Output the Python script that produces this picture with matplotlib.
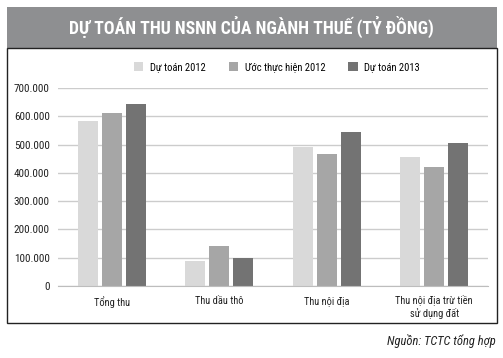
import matplotlib
matplotlib.use("Agg")
import matplotlib.pyplot as plt
from matplotlib import font_manager
from matplotlib.patches import Rectangle
import numpy as np

names = {f.name for f in font_manager.fontManager.ttflist}
fam = "Open Sans"
for cand in ["Liberation Sans Narrow", "Roboto Condensed", "Open Sans Condensed", "DejaVu Sans Condensed"]:
    if cand in names:
        fam = cand
        break
plt.rcParams['font.family'] = [fam, 'DejaVu Sans']

categories = ["Tổng thu", "Thu dầu thô", "Thu nội địa", "Thu nội địa trừ tiền\nsử dụng đất"]
series_names = ["Dự toán 2012", "Ước thực hiện 2012", "Dự toán 2013"]
du_toan_2012 = [585000, 90000, 492000, 457000]
uoc_2012 = [610000, 142000, 467000, 421000]
du_toan_2013 = [645000, 99000, 546000, 506000]
yticks = [0, 100000, 200000, 300000, 400000, 500000, 600000, 700000]
ytick_labels = ["0", "100.000", "200.000", "300.000", "400.000", "500.000", "600.000", "700.000"]
colors = ["#d9d9d9", "#a6a6a6", "#737373"]

fig = plt.figure(figsize=(5.03, 3.58), dpi=100)
W, H = 503, 358

# title banner
fig.patches.append(Rectangle((7 / W, 1 - 48 / H), 490 / W, 41 / H, transform=fig.transFigure,
                             facecolor="#8e8f91", edgecolor="none"))
fig.text(251 / W, 1 - 27 / H, "DỰ TOÁN THU NSNN CỦA NGÀNH THUẾ (TỶ ĐỒNG)", color="white",
         fontsize=12.8, fontweight="bold", ha="center", va="center")
# chart box
fig.patches.append(Rectangle((7 / W, 1 - 323 / H), 490 / W, 275 / H, transform=fig.transFigure,
                             facecolor="none", edgecolor="#222222", linewidth=1.0))

ax = fig.add_axes([58 / W, 1 - 286 / H, 430 / W, 198 / H])
ax.set_facecolor("none")
x = np.arange(len(categories))
bw = 0.186
step = 0.223
ax.set_axisbelow(True)
ax.yaxis.grid(True, color="#cccccc", linewidth=1.0, linestyle="-")
for i, (vals, c, n) in enumerate(zip([du_toan_2012, uoc_2012, du_toan_2013], colors, series_names)):
    ax.bar(x + (i - 1) * step, vals, width=bw, color=c, label=n, zorder=3)

ax.set_xlim(-0.5, 3.5)
ax.set_ylim(0, 700000)
ax.set_yticks(yticks)
ax.set_yticklabels(ytick_labels, fontsize=8, color="#222222")
ax.set_xticks(x)
ax.set_xticklabels(categories, fontsize=7.5, color="#222222")
for s in ["top", "right", "left"]:
    ax.spines[s].set_visible(False)
ax.spines["bottom"].set_color("#bdbdbd")
ax.spines["bottom"].set_zorder(4)
ax.tick_params(axis="y", length=0, pad=6)
ax.tick_params(axis="x", length=0, pad=7)

leg = fig.legend(loc="center", bbox_to_anchor=(277 / W, 1 - 67 / H), ncol=3, frameon=False,
                 fontsize=7.6, handlelength=0.9, handleheight=0.9, columnspacing=2.2,
                 handletextpad=0.6)

fig.text(496 / W, 1 - 341 / H, "Nguồn: TCTC tổng hợp", fontsize=9, style="italic",
         ha="right", va="center", color="#222222")

fig.savefig("out.png", dpi=100)
